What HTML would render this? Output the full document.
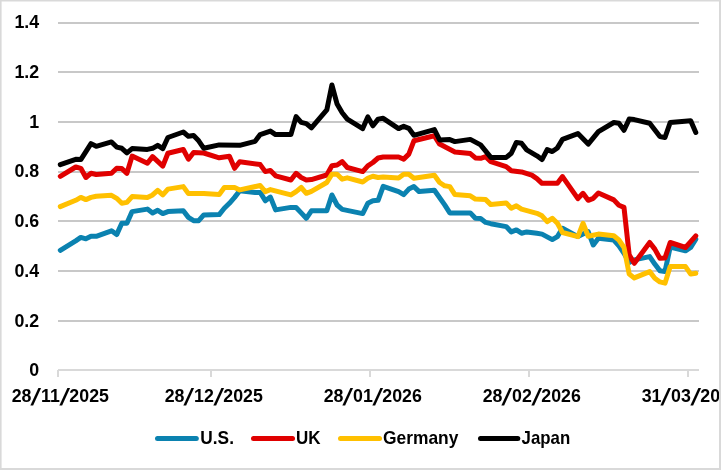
<!DOCTYPE html>
<html lang="en">
<head>
<meta charset="utf-8">
<title>Chart</title>
<style>
html,body{margin:0;padding:0;background:#fff;}
body{width:721px;height:470px;overflow:hidden;position:relative;font-family:"Liberation Sans",Arial,sans-serif;font-weight:bold;color:#000;}
svg{position:absolute;left:0;top:0;display:block;will-change:transform;}
#xl{position:absolute;left:0;top:0;width:719px;height:470px;overflow:hidden;will-change:transform;}
text{font-family:"Liberation Sans",Arial,sans-serif;font-weight:bold;fill:#000;}
.xl{position:absolute;top:382.1px;height:24px;line-height:24px;font-size:17.8px;white-space:nowrap;}
.xl .s{display:inline-block;width:9.55px;text-align:center;font-size:23.5px;line-height:24px;transform:translateY(2.7px) skewX(-15deg);}
</style>
</head>
<body>
<svg width="721" height="470" viewBox="0 0 721 470">
<rect x="0" y="0" width="721" height="470" fill="#ffffff"/>

<rect x="58" y="22" width="641" height="2" fill="#c8c8c8"/>
<rect x="58" y="71" width="641" height="2" fill="#c8c8c8"/>
<rect x="58" y="121" width="641" height="2" fill="#c8c8c8"/>
<rect x="58" y="171" width="641" height="2" fill="#c8c8c8"/>
<rect x="58" y="220" width="641" height="2" fill="#c8c8c8"/>
<rect x="58" y="270" width="641" height="2" fill="#c8c8c8"/>
<rect x="58" y="320" width="641" height="2" fill="#c8c8c8"/>
<rect x="58" y="369" width="641" height="2" fill="#d9d9d9"/>
<rect x="57" y="370" width="2" height="7" fill="#d9d9d9"/>
<rect x="210" y="369" width="2" height="8" fill="#d9d9d9"/>
<rect x="369" y="369" width="2" height="8" fill="#d9d9d9"/>
<rect x="528" y="369" width="2" height="8" fill="#d9d9d9"/>
<rect x="687" y="369" width="2" height="8" fill="#d9d9d9"/>
<polyline points="60.3,250.3 75.7,240.8 80.8,237.4 85.9,238.8 91.0,236.3 96.2,236.3 111.5,230.8 116.7,234.6 121.8,223.3 126.9,223.3 132.1,211.6 147.4,209.1 152.6,213.0 157.7,210.3 162.8,213.6 167.9,211.6 183.3,210.8 188.4,217.4 193.6,220.7 198.7,220.7 203.8,214.9 219.2,214.6 224.3,208.3 229.4,203.3 234.6,197.4 239.7,190.8 255.1,192.4 260.2,192.4 265.3,200.8 270.4,197.1 275.6,209.9 290.9,207.4 296.1,207.5 301.2,212.9 306.3,218.3 311.4,210.8 326.8,210.8 331.9,195.0 337.1,205.0 342.2,209.4 362.7,213.6 367.8,203.3 372.9,200.8 378.1,200.3 383.2,186.3 398.6,191.6 403.7,194.6 408.8,189.1 413.9,186.6 419.1,191.6 434.4,190.3 444.7,204.9 449.8,212.9 470.3,212.9 475.4,218.3 480.6,218.6 485.7,222.4 490.8,223.7 506.2,226.6 511.3,231.9 516.4,229.9 521.5,233.2 526.7,231.9 536.9,233.3 542.0,234.1 552.3,239.6 557.4,236.6 562.5,228.3 577.9,236.6 583.0,234.1 588.2,231.6 593.3,245.0 598.4,238.3 613.8,240.0 618.9,245.8 624.0,253.3 629.2,262.4 634.3,259.9 649.7,256.6 654.8,264.1 659.9,270.8 665.0,271.6 670.2,247.0 685.5,250.8 690.7,247.5 695.8,239.1" fill="none" stroke="#0B82B0" stroke-width="5" stroke-linecap="round" stroke-linejoin="round"/>
<polyline points="60.3,176.3 75.7,167.0 80.8,168.3 85.9,177.5 91.0,173.3 96.2,174.5 111.5,173.3 116.7,168.3 121.8,168.6 126.9,173.3 132.1,156.1 147.4,163.3 152.6,156.6 162.8,166.1 167.9,153.3 183.3,149.5 188.4,159.2 193.6,152.5 203.8,153.0 219.2,157.8 229.4,156.3 234.6,168.3 239.7,161.7 260.2,164.6 265.3,171.6 270.4,170.5 275.6,175.8 290.9,180.0 296.1,173.3 301.2,177.5 306.3,179.9 311.4,179.6 326.8,175.0 331.9,165.8 337.1,165.0 342.2,161.6 347.3,167.5 362.7,171.6 367.8,165.8 372.9,162.5 378.1,158.0 383.2,157.0 398.6,157.0 403.7,159.1 408.8,154.1 413.9,140.8 434.4,135.8 439.6,144.1 454.9,151.9 470.3,153.6 475.4,157.9 480.6,158.3 485.7,156.6 490.8,161.6 506.2,166.6 511.3,170.7 521.5,171.9 531.8,175.2 536.9,178.6 542.0,183.3 557.4,183.3 562.5,176.6 577.9,198.6 583.0,193.3 588.2,200.3 593.3,198.3 598.4,193.0 613.8,199.9 618.9,205.3 624.0,207.4 629.2,254.9 634.3,263.3 649.7,242.5 654.8,249.1 659.9,258.3 665.0,257.9 670.2,242.5 685.5,247.5 690.7,241.6 695.8,235.8" fill="none" stroke="#E00000" stroke-width="5" stroke-linecap="round" stroke-linejoin="round"/>
<polyline points="60.3,206.6 75.7,200.3 80.8,197.4 85.9,199.6 91.0,197.4 96.2,196.3 111.5,195.3 116.7,198.3 121.8,203.2 126.9,202.4 132.1,196.6 147.4,197.4 152.6,194.9 157.7,190.3 162.8,194.9 167.9,189.1 183.3,186.6 188.4,193.6 203.8,193.6 219.2,194.6 224.3,187.5 234.6,187.5 239.7,189.9 260.2,185.5 265.3,191.6 270.4,189.6 290.9,194.9 296.1,191.6 301.2,187.5 306.3,193.3 311.4,191.3 326.8,182.5 331.9,174.2 337.1,174.2 342.2,179.2 347.3,177.8 362.7,182.0 367.8,178.3 372.9,176.2 378.1,177.5 383.2,177.0 398.6,178.0 403.7,174.2 408.8,174.2 413.9,178.3 434.4,175.3 439.6,182.5 444.7,185.8 449.8,186.6 454.9,194.6 470.3,195.8 475.4,199.1 485.7,199.6 490.8,204.6 506.2,202.9 511.3,208.3 516.4,205.8 521.5,209.1 536.9,213.3 542.0,215.8 547.2,221.7 552.3,218.3 557.4,223.3 562.5,232.5 577.9,236.6 583.0,223.3 588.2,236.3 598.4,234.1 613.8,235.8 618.9,240.0 624.0,247.5 629.2,274.1 634.3,277.9 649.7,271.6 654.8,278.2 659.9,281.9 665.0,283.2 670.2,266.6 685.5,266.6 690.7,274.1 695.8,273.2" fill="none" stroke="#FFC000" stroke-width="5" stroke-linecap="round" stroke-linejoin="round"/>
<polyline points="60.3,164.6 75.7,159.3 80.8,159.6 91.0,143.6 96.2,146.3 111.5,141.9 116.7,147.1 121.8,148.3 126.9,152.9 132.1,148.6 147.4,149.4 152.6,148.3 157.7,145.3 162.8,148.6 167.9,137.5 183.3,132.0 188.4,136.3 193.6,135.5 198.7,140.8 203.8,148.3 219.2,144.9 239.7,145.3 255.1,141.3 260.2,134.6 270.4,131.1 275.6,134.6 290.9,134.6 296.1,116.6 301.2,122.4 306.3,123.6 311.4,127.8 326.8,109.9 331.9,85.0 337.1,104.1 342.2,112.8 347.3,119.1 362.7,128.6 367.8,116.9 372.9,125.8 378.1,119.1 383.2,118.3 398.6,128.6 403.7,126.3 408.8,128.3 413.9,135.3 434.4,129.6 439.6,139.9 449.8,139.6 454.9,141.6 470.3,139.4 480.6,144.9 490.8,157.4 506.2,157.4 511.3,153.3 516.4,142.4 521.5,143.3 526.7,149.9 536.9,155.8 542.0,159.6 547.2,149.6 552.3,151.6 557.4,147.9 562.5,139.4 577.9,133.6 588.2,144.1 598.4,131.6 613.8,122.5 618.9,123.3 624.0,130.3 629.2,119.1 634.3,119.6 649.7,123.3 659.9,136.6 665.0,137.5 670.2,122.5 690.7,120.8 695.8,132.5" fill="none" stroke="#000000" stroke-width="5" stroke-linecap="round" stroke-linejoin="round"/>
<text x="39.2" y="28.1" font-size="17.8" text-anchor="end">1.4</text>
<text x="39.2" y="77.8" font-size="17.8" text-anchor="end">1.2</text>
<text x="39.2" y="127.6" font-size="17.8" text-anchor="end">1</text>
<text x="39.2" y="177.3" font-size="17.8" text-anchor="end">0.8</text>
<text x="39.2" y="227.1" font-size="17.8" text-anchor="end">0.6</text>
<text x="39.2" y="276.9" font-size="17.8" text-anchor="end">0.4</text>
<text x="39.2" y="326.6" font-size="17.8" text-anchor="end">0.2</text>
<text x="39.2" y="376.4" font-size="17.8" text-anchor="end">0</text>
<line x1="157.5" y1="438.4" x2="196.3" y2="438.4" stroke="#0B82B0" stroke-width="5" stroke-linecap="round"/>
<text transform="translate(200.3,443.9) scale(0.972,1)" font-size="17.8">U.S.</text>
<line x1="253.5" y1="438.4" x2="292.5" y2="438.4" stroke="#E00000" stroke-width="5" stroke-linecap="round"/>
<text transform="translate(296.0,443.9) scale(0.954,1)" font-size="17.8">UK</text>
<line x1="340.5" y1="438.4" x2="379.5" y2="438.4" stroke="#FFC000" stroke-width="5" stroke-linecap="round"/>
<text transform="translate(383.0,443.9) scale(0.978,1)" font-size="17.8">Germany</text>
<line x1="480.5" y1="438.4" x2="517.8" y2="438.4" stroke="#000000" stroke-width="5" stroke-linecap="round"/>
<text transform="translate(521.6,443.9) scale(0.946,1)" font-size="17.8">Japan</text>
<rect x="0" y="0" width="721" height="1.5" fill="#d9d9d9"/>
<rect x="0" y="0" width="1.6" height="470" fill="#d9d9d9"/>
<rect x="719" y="0" width="2" height="470" fill="#d9d9d9"/>
<rect x="0" y="468" width="721" height="2" fill="#d9d9d9"/>
</svg>
<div id="xl">
<div class="xl" style="left:11.7px">28<span class="s">/</span>11<span class="s">/</span>2025</div>
<div class="xl" style="left:164.7px">28<span class="s">/</span>12<span class="s">/</span>2025</div>
<div class="xl" style="left:323.7px">28<span class="s">/</span>01<span class="s">/</span>2026</div>
<div class="xl" style="left:482.7px">28<span class="s">/</span>02<span class="s">/</span>2026</div>
<div class="xl" style="left:641.7px">31<span class="s">/</span>03<span class="s">/</span>2026</div>
</div>
</body>
</html>
